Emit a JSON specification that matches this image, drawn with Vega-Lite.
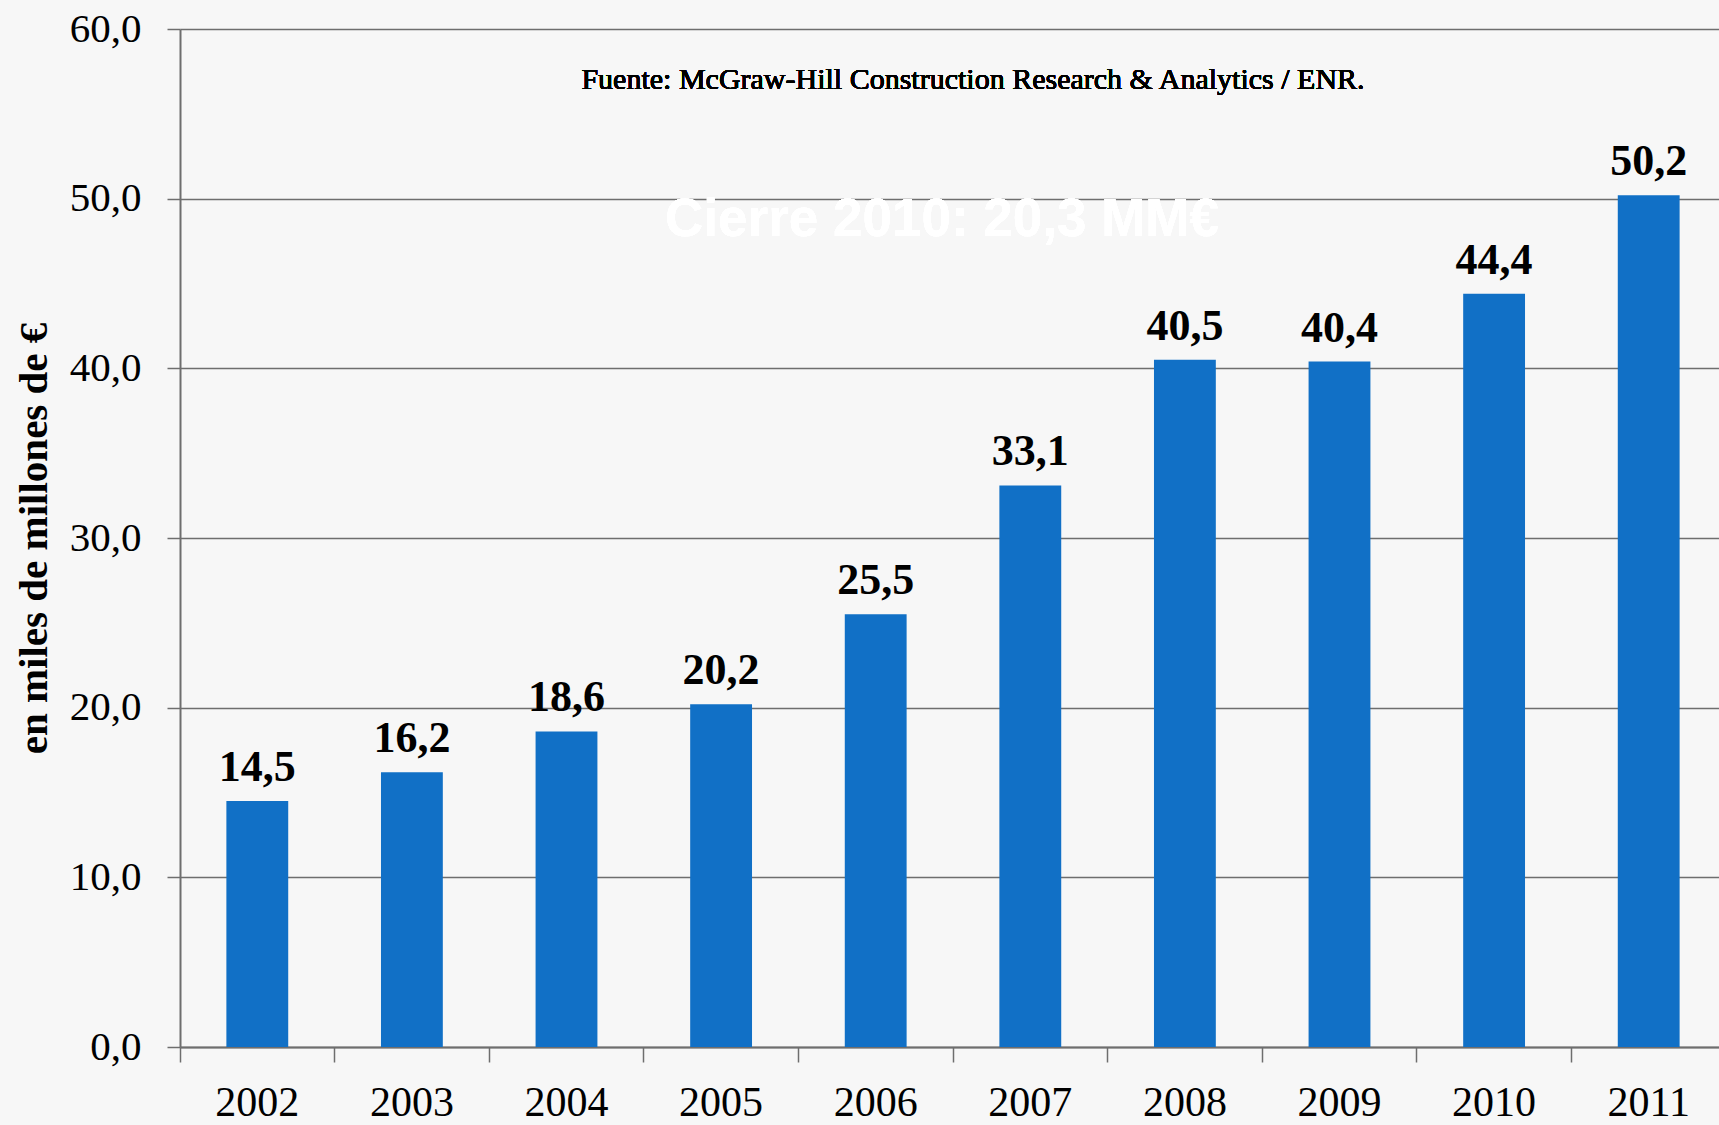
{
  "$schema": "https://vega.github.io/schema/vega-lite/v6.json",
  "width": 1546,
  "height": 1018,
  "autosize": {"type": "none"},
  "padding": {"left": 180, "top": 29, "right": 0, "bottom": 78},
  "background": "#f7f7f7",
  "config": {
    "locale": {"number": {"decimal": ",", "thousands": ".", "grouping": [3], "currency": ["", " €"]}},
    "view": {"stroke": null},
    "font": "Liberation Serif"
  },
  "data": {
    "values": [
      {"year": "2002", "value": 14.5},
      {"year": "2003", "value": 16.2},
      {"year": "2004", "value": 18.6},
      {"year": "2005", "value": 20.2},
      {"year": "2006", "value": 25.5},
      {"year": "2007", "value": 33.1},
      {"year": "2008", "value": 40.5},
      {"year": "2009", "value": 40.4},
      {"year": "2010", "value": 44.4},
      {"year": "2011", "value": 50.2}
    ]
  },
  "encoding": {
    "x": {
      "field": "year", "type": "nominal", "sort": null,
      "scale": {"paddingInner": 0, "paddingOuter": 0},
      "axis": {
        "title": null, "labelAngle": 0, "bandPosition": 0, "tickSize": 15, "tickWidth": 1.5,
        "tickColor": "#6e6e6e", "domainColor": "#6e6e6e", "domainWidth": 2,
        "labelFontSize": 42, "labelColor": "#000000", "labelPadding": 20, "grid": false
      }
    },
    "y": {
      "field": "value", "type": "quantitative",
      "scale": {"domain": [0, 60], "nice": false},
      "axis": {
        "values": [0, 10, 20, 30, 40, 50, 60], "format": ".1f",
        "grid": true, "gridColor": "#6e6e6e", "gridWidth": 1.5,
        "domainColor": "#6e6e6e", "domainWidth": 2,
        "tickColor": "#6e6e6e", "tickSize": 13, "tickWidth": 1.5,
        "labelFontSize": 41, "labelColor": "#000000", "labelPadding": 26,
        "title": "en miles de millones de €", "titleFontSize": 41, "titleFontWeight": "bold",
        "titleColor": "#000000", "titlePadding": 14
      }
    }
  },
  "layer": [
    {"mark": {"type": "bar", "color": "#1170c6", "width": {"band": 0.4}}},
    {
      "mark": {"type": "text", "fontWeight": "bold", "fontSize": 44, "baseline": "alphabetic", "dy": -20, "color": "#000000"},
      "encoding": {"text": {"field": "value", "type": "quantitative", "format": ".1f"}}
    },
    {
      "mark": {"type": "text", "text": "Cierre 2010: 20,3 MM€", "font": "Liberation Sans", "fontWeight": "bold", "fontSize": 53, "color": "#ffffff", "baseline": "middle", "align": "center", "dx": -11},
      "encoding": {
        "x": {"datum": "2007", "type": "nominal", "bandPosition": 0},
        "y": {"datum": 48.75, "type": "quantitative"}
      }
    },
    {
      "mark": {"type": "text", "text": "Fuente: McGraw-Hill Construction Research & Analytics / ENR.", "fontSize": 30, "fontWeight": "normal", "color": "#000000", "baseline": "middle", "align": "center", "dx": 20},
      "encoding": {
        "x": {"datum": "2007", "type": "nominal", "bandPosition": 0},
        "y": {"datum": 57.0, "type": "quantitative"}
      }
    }
  ]
}
